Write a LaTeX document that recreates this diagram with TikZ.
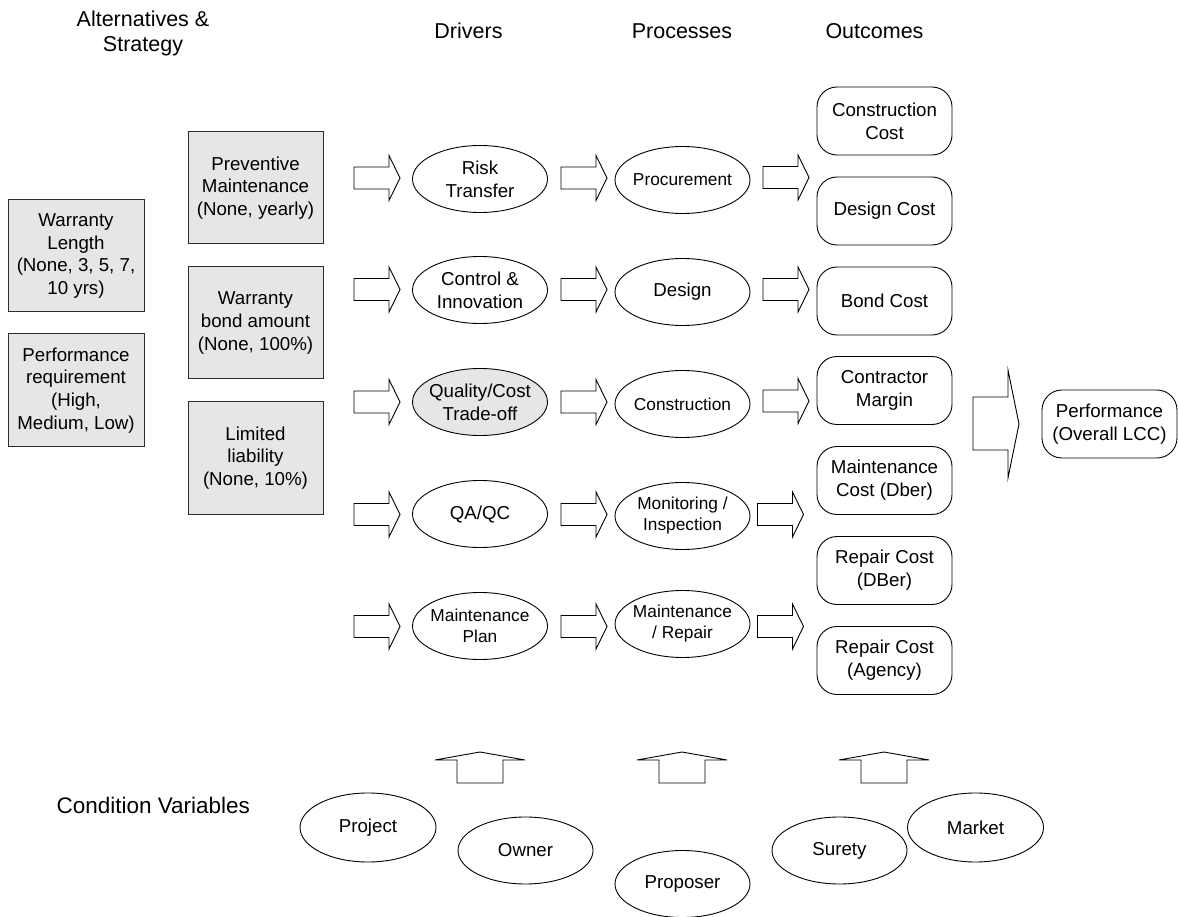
\documentclass[tikz,border=0pt]{standalone}
\usepackage{fontspec}
\setmainfont{Liberation Sans}
\usetikzlibrary{shapes.geometric,calc}

\definecolor{boxgray}{RGB}{230,230,230}
\definecolor{edge}{RGB}{45,45,45}

\tikzset{
  every node/.style={inner sep=0pt, outer sep=0pt},
  headtext/.style={font=\fontsize{21.5}{25}\selectfont, align=center},
  bigtext/.style={font=\fontsize{18.7}{22.8}\selectfont, align=center},
  smalltext/.style={font=\fontsize{17.3}{21}\selectfont, align=center},
  altbox/.style={draw=edge, fill=boxgray, line width=1pt, rectangle, bigtext},
  oval/.style={draw, ellipse, line width=0.9pt, minimum width=135pt, minimum height=67pt},
  outbox/.style={draw, rectangle, rounded corners=20pt, line width=0.9pt,
                 minimum width=135pt, minimum height=68pt, bigtext},
  blockarrow/.style={draw, line width=0.9pt, fill=white, line join=miter},
  rarrow/.pic={\draw[blockarrow] (-23,-11) -- (12,-11) -- (12,-22.5) -- (23,0)
                 -- (12,22.5) -- (12,11) -- (-23,11) -- cycle;},
  uarrow/.pic={\draw[blockarrow] (-23,15.5) -- (-23,-7.5) -- (-45,-7.5) -- (0,-15.5)
                 -- (45,-7.5) -- (23,-7.5) -- (23,15.5) -- cycle;},
}

\begin{document}
\begin{tikzpicture}[x=1pt, y=-1pt]
\useasboundingbox (0,0) rectangle (1179,917);

% column headings
\node[headtext] (hAlt) at (143,33) {Alternatives \&\\Strategy};
\node[headtext, anchor=base] (hDrv) at (468.5,38.5) {Drivers};
\node[headtext, anchor=base] (hPro) at (682,38.5) {Processes};
\node[headtext, anchor=base] (hOut) at (874.5,38.5) {Outcomes};
\node[font=\fontsize{22.5}{26}\selectfont, anchor=base east] (hCond) at (250,813) {Condition Variables};

% alternatives and strategy
\node[altbox, minimum width=136pt, minimum height=112pt] (wl) at (76,256)
  {Warranty\\Length\\(None, 3, 5, 7,\\10 yrs)};
\node[altbox, minimum width=136pt, minimum height=113pt] (pr) at (76,390.5)
  {Performance\\requirement\\(High,\\Medium, Low)};
\node[altbox, minimum width=135pt, minimum height=112pt] (pm) at (255.5,188)
  {Preventive\\Maintenance\\(None, yearly)};
\node[altbox, minimum width=135pt, minimum height=112pt] (wb) at (255.5,323)
  {Warranty\\bond amount\\(None, 100\%)};
\node[altbox, minimum width=135pt, minimum height=112pt] (ll) at (255.5,458)
  {Limited\\liability\\(None, 10\%)};

% drivers
\node[oval, label={[bigtext]center:Risk\\Transfer}] (d1) at (480,179) {};
\node[oval, label={[bigtext]center:Control \&\\Innovation}] (d2) at (480,290) {};
\node[oval, fill=boxgray, label={[bigtext]center:Quality/Cost\\Trade-off}] (d3) at (480,402) {};
\node[oval, label={[bigtext]center:QA/QC}] (d4) at (480,514) {};
\node[oval, label={[smalltext]center:Maintenance\\Plan}] (d5) at (480,626) {};

% processes
\node[oval, label={[smalltext]center:Procurement}] (p1) at (682.5,180) {};
\node[oval, label={[bigtext]center:Design}] (p2) at (682.5,292) {};
\node[oval, label={[smalltext]center:Construction}] (p3) at (682.5,404) {};
\node[oval, label={[smalltext]center:Monitoring /\\Inspection}] (p4) at (682.5,516) {};
\node[oval, label={[smalltext]center:Maintenance\\/ Repair}] (p5) at (682.5,624) {};

% outcomes
\node[outbox] (o1) at (884.5,121) {Construction\\Cost};
\node[outbox] (o2) at (884.5,211) {Design Cost};
\node[outbox] (o3) at (884.5,301) {Bond Cost};
\node[outbox] (o4) at (884.5,390.5) {Contractor\\Margin};
\node[outbox] (o5) at (884.5,480.5) {Maintenance\\Cost (Dber)};
\node[outbox] (o6) at (884.5,570.5) {Repair Cost\\(DBer)};
\node[outbox] (o7) at (884.5,660.5) {Repair Cost\\(Agency)};
\node[outbox] (perf) at (1109.5,424) {Performance\\(Overall LCC)};

% condition variables
\node[oval, minimum width=136pt, minimum height=69pt, label={[bigtext]center:Project}] (cv1) at (368,827.5) {};
\node[oval, label={[bigtext]center:Owner}] (cv2) at (525.5,850.5) {};
\node[oval, label={[bigtext]center:Proposer}] (cv3) at (682.5,884) {};
\node[oval, label={[bigtext]center:Surety}] (cv4) at (839.5,850.5) {};
\node[oval, minimum width=136pt, minimum height=69pt, label={[bigtext]center:Market}] (cv5) at (975.5,827.5) {};

% block arrows into the drivers
\foreach \y in {178,289.5,402,514.5,626.5} \pic at (377,\y) {rarrow};
% block arrows into the processes
\foreach \y in {178,289.5,402,514.5,626.5} \pic at (584,\y) {rarrow};
% block arrows into the outcomes
\foreach \y in {177.5,289.5,401} \pic at (786,\y) {rarrow};
\foreach \y in {514.5,626.5} \pic at (780.5,\y) {rarrow};

% upward arrows from the condition variables
\foreach \x in {480,682,884} \pic at (\x,767.5) {uarrow};

% outcomes roll up into overall performance
\draw[blockarrow] (973,397) -- (1008,397) -- (1008,370) -- ($(perf.west)+(-23,0)$)
  -- (1008,478) -- (1008,450) -- (973,450) -- cycle;
\end{tikzpicture}
\end{document}
